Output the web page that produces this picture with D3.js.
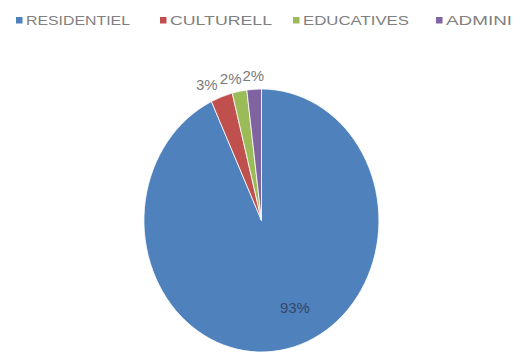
<!DOCTYPE html>
<html>
<head>
<meta charset="utf-8">
<script src="https://cdn.jsdelivr.net/npm/d3@7/dist/d3.min.js"></script>
<style>
  html, body { margin: 0; padding: 0; background: #fff; }
  svg { display: block; }
  text { font-family: "Liberation Sans", "DejaVu Sans", sans-serif; }
</style>
</head>
<body>
<svg id="chart" width="524" height="354"></svg>
<script>
// Share of each building category
const categories = ["RESIDENTIEL", "CULTURELL", "EDUCATIVES", "ADMINI"];
const shares = [93, 3, 2, 2];
const labels = ["93%", "3%", "2%", "2%"];
const colours = ["#4f81bd", "#c0504d", "#9bbb59", "#8064a2"];

const W = 524, H = 354;
const svg = d3.select("#chart");

// Pie geometry (drawn as a slightly tall ellipse)
const cx = 261.5, cy = 220.5, rx = 117.5, ry = 131.5;

const color = d3.scaleOrdinal().domain(categories).range(colours);

const pie = d3.pie().sort(null).value(d => d.value);
const data = categories.map((c, i) => ({ name: c, value: shares[i], label: labels[i] }));
const arcs = pie(data);

const arc = d3.arc().innerRadius(0).outerRadius(1);

const pieG = svg.append("g")
  .attr("transform", `translate(${cx},${cy}) scale(${rx},${ry})`);

pieG.selectAll("path")
  .data(arcs)
  .join("path")
  .attr("d", arc)
  .attr("fill", d => color(d.data.name))
  .attr("stroke", "#ffffff")
  .attr("stroke-width", 0.8)
  .attr("vector-effect", "non-scaling-stroke");

// Data labels: large slice inside, small slices just outside the rim
const labelG = svg.append("g");
const outside = [];
arcs.forEach(d => {
  const mid = (d.startAngle + d.endAngle) / 2;
  const inside = d.data.value > 50;
  const k = inside ? 0.68 : 1.1;
  let x = cx + Math.sin(mid) * rx * k;
  const y = cy - Math.cos(mid) * ry * k;
  let anchor = "middle";
  if (inside) { x += 16; }
  else if (Math.sin(mid) < -0.3) { anchor = "end"; }
  const t = labelG.append("text")
    .attr("x", x)
    .attr("y", y)
    .attr("dy", "0.35em")
    .attr("text-anchor", anchor)
    .attr("font-size", 15)
    .attr("fill", inside ? "#34476a" : "#7a7a7a")
    .text(d.data.label);
  if (!inside) outside.push(t);
});

// Keep neighbouring outside labels side by side instead of on top of each other
outside.reverse();
for (let i = 1; i < outside.length; i++) {
  const right = outside[i - 1].node().getBBox();
  const cur = outside[i];
  const box = cur.node().getBBox();
  const limit = right.x - 1;
  if (box.x + box.width > limit) {
    const shift = box.x + box.width - limit;
    cur.attr("x", +cur.attr("x") - shift);
  }
}

// Legend across the top
const legendX = [16, 160, 293, 436];
const legendW = [104, 102, 106, 66];
const legend = svg.append("g");
categories.forEach((c, i) => {
  const g = legend.append("g").attr("transform", `translate(${legendX[i]},0)`);
  g.append("rect")
    .attr("x", 0).attr("y", 17)
    .attr("width", 6.5).attr("height", 6.5)
    .attr("fill", color(c));
  g.append("text")
    .attr("x", 10).attr("y", 25)
    .attr("font-size", 13)
    .attr("fill", "#808080")
    .attr("textLength", legendW[i])
    .attr("lengthAdjust", "spacingAndGlyphs")
    .text(c);
});
</script>
</body>
</html>
